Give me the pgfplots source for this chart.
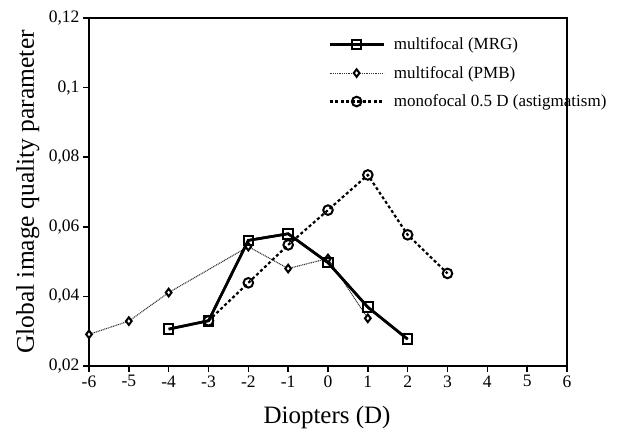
\documentclass[border=0pt]{standalone}
\usepackage{fontspec}
\setmainfont{Liberation Serif}
\usepackage{pgfplots}
\pgfplotsset{compat=1.18}
\begin{document}
\begin{tikzpicture}
\begin{axis}[
  at={(0pt,0pt)}, anchor=south west,
  scale only axis, width=478pt, height=348pt,
  xmin=-6, xmax=6, ymin=0.02, ymax=0.12,
  xtick={-6,-5,-4,-3,-2,-1,0,1,2,3,4,5,6},
  ytick={0.02,0.04,0.06,0.08,0.1,0.12},
  tick align=outside, major tick length=6pt,
  xtick pos=bottom, ytick pos=left,
  axis line style={line width=2pt},
  every tick/.style={line width=1.6pt, black},
  /pgf/number format/assume math mode=true,
  yticklabel style={/pgf/number format/.cd, fixed, precision=2, use comma, /tikz/.cd, font=\fontsize{17.5}{17.5}\selectfont},
  xticklabel style={font=\fontsize{17.5}{17.5}\selectfont},
  xlabel={Diopters (D)},
  ylabel={Global image quality parameter},
  xlabel style={at={(axis description cs:0.498,-0.149)}, anchor=center, font=\fontsize{25}{25}\selectfont},
  ylabel style={at={(axis description cs:-0.128,0.5)}, anchor=center, font=\fontsize{25.5}{25.5}\selectfont},
  legend image code/.code={\draw[mark repeat=2,mark phase=2,#1] plot coordinates {(0pt,0pt) (27pt,0pt) (54pt,0pt)};},
  legend style={at={(0.494,0.955)}, anchor=north west, draw=none, fill=none,
    font=\fontsize{17}{17}\selectfont, row sep=11pt, cells={anchor=west},
    nodes={inner xsep=9pt}},
]
\addplot[black, line width=2.6pt, mark=square, mark size=4.8pt, mark options={solid, fill=white, line width=2pt}]
  coordinates {(-4,0.0306) (-3,0.0330) (-2,0.0561) (-1,0.0580) (0,0.0497) (1,0.0369) (2,0.0277)};
\addlegendentry{multifocal (MRG)}
\addplot[black!80, line width=1.1pt, dash pattern=on 1pt off 0.8pt, mark=diamond*, mark size=3.8pt, mark options={black, solid, fill=white, line width=2pt}]
  coordinates {(-6,0.0291) (-5,0.0329) (-4,0.0411) (-2,0.0543) (-1,0.0480) (0,0.0509) (1,0.0337)};
\addlegendentry{multifocal (PMB)}
\addplot[black, line width=2.2pt, dash pattern=on 3pt off 2.5pt, mark=o, mark size=4.8pt, mark options={solid, fill=white, line width=2pt}]
  coordinates {(-3,0.0330) (-2,0.0439) (-1,0.0548) (0,0.0648) (1,0.0749) (2,0.0577) (3,0.0466)};
\addlegendentry{monofocal 0.5 D (astigmatism)}
\addplot[black, line width=2.6pt, mark=square, mark size=4.8pt, mark options={solid, fill=white, line width=2pt}, forget plot]
  coordinates {(-4,0.0306) (-3,0.0330) (-2,0.0561) (-1,0.0580) (0,0.0497) (1,0.0369) (2,0.0277)};
\end{axis}
\pgfresetboundingbox
\path[use as bounding box] (-89pt,-71pt) rectangle (536pt,366pt);
\end{tikzpicture}
\end{document}
